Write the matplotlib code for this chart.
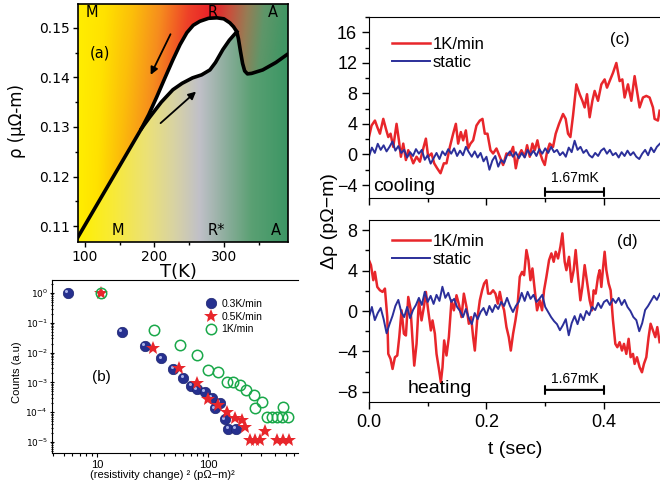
import numpy as np
import matplotlib
matplotlib.use("Agg")
import matplotlib.pyplot as plt
from matplotlib.ticker import MultipleLocator, NullFormatter, LogLocator, FormatStrFormatter
from matplotlib import transforms

plt.rcParams['font.family'] = ['Liberation Sans', 'DejaVu Sans']

# ---------------- panel (a): rho(T) ----------------
line_T = [88, 181.6]
line_rho = [0.1073, 0.1297]
cool_T = [181.6, 192, 203.6, 215, 226.6, 237, 246.8, 256, 265.5, 278, 290, 300, 308.6, 314, 318.7]
cool_rho = [0.1297, 0.1325, 0.1361, 0.1398, 0.1435, 0.1466, 0.1490, 0.1505, 0.1513, 0.1519,
            0.1520, 0.1518, 0.1510, 0.1502, 0.1492]
heat_T = [181.6, 193.5, 210, 226.6, 240, 255, 268, 280, 288, 298.6, 308, 318.7]
heat_rho = [0.1297, 0.1320, 0.1350, 0.1375, 0.1388, 0.1399, 0.1405, 0.1415, 0.1430, 0.1456,
            0.1475, 0.1492]
tail_T = [318.7, 321, 324, 327, 330, 334, 340, 356, 375, 392]
tail_rho = [0.1492, 0.1478, 0.1452, 0.1428, 0.1413, 0.1407, 0.1408, 0.1415, 0.1430, 0.1447]

# ---------------- panel (b): histograms ----------------
b03_x = [5.5, 16.7, 27, 38, 48.8, 60, 71, 79, 94, 108, 116, 128, 142, 152, 179]
b03_y = [1.0, 0.05, 0.017, 0.0064, 0.0028, 0.0014, 0.00076, 0.00059, 0.00049, 0.0003,
         0.000135, 0.00021, 5.8e-5, 2.7e-5, 2.7e-5]
b05_x = [10.8, 32, 55, 79, 101, 124, 147, 175, 201, 215, 239, 265, 294, 326, 420, 470, 540]
b05_y = [1.0, 0.014, 0.003, 0.00098, 0.00027, 0.00017, 0.000104, 6.3e-5, 5.5e-5, 3.3e-5,
         1.15e-5, 1.15e-5, 1.15e-5, 2.4e-5, 1.15e-5, 1.15e-5, 1.15e-5]
b10_x = [10.8, 32.7, 56, 79, 100, 124, 147, 169, 194, 222, 257, 264, 304, 337, 374, 415, 461, 478, 530]
b10_y = [1.0, 0.057, 0.018, 0.0083, 0.0026, 0.0023, 0.00105, 0.00105, 0.00081, 0.00055,
         0.00038, 0.000135, 0.00022, 6.8e-5, 6.8e-5, 6.8e-5, 6.8e-5, 0.000145, 6.8e-5]

# ---------------- panel (c): cooling ----------------
c_red_t = [0.000, 0.0045, 0.0102, 0.0142, 0.0187, 0.0244, 0.0289, 0.0329, 0.0368, 0.0414,
           0.0470, 0.0510, 0.0544, 0.0584, 0.0629, 0.0669, 0.0714, 0.0754, 0.0810, 0.0867,
           0.0924, 0.0969, 0.1008, 0.1065, 0.1110, 0.1161, 0.1218, 0.1275, 0.1320, 0.1377,
           0.1433, 0.1479, 0.1518, 0.1564, 0.1603, 0.1649, 0.1688, 0.1728, 0.1773, 0.1830,
           0.1887, 0.1932, 0.1972, 0.2017, 0.2068, 0.2113, 0.2170, 0.2227, 0.2283, 0.2340,
           0.2397, 0.2453, 0.2499, 0.2538, 0.2595, 0.2652, 0.2691, 0.2737, 0.2782, 0.2822,
           0.2867, 0.2907, 0.2952, 0.2992, 0.3031, 0.3076, 0.3133, 0.3178, 0.3235, 0.3303,
           0.3348, 0.3388, 0.3428, 0.3473, 0.3530, 0.3586, 0.3632, 0.3671, 0.3711, 0.3756,
           0.3802, 0.3841, 0.3898, 0.3955, 0.4011, 0.4051, 0.4096, 0.4153, 0.4210, 0.4266,
           0.4312, 0.4351, 0.4408, 0.4465, 0.4521, 0.4561, 0.4606, 0.4663, 0.4720, 0.4776,
           0.4833, 0.4861, 0.4918, 0.4946]
c_red = [2.28, 3.79, 4.44, 3.58, 2.72, 4.66, 3.36, 2.28, 2.72, 0.99,
         4.01, 1.85, -0.30, 1.42, -0.73, 0.56, -0.30, -1.16, -0.30, -0.95,
         0.78, 2.07, -0.30, 0.13, -1.16, -1.81, -2.46, -1.16, -1.16, 0.99,
         2.72, 4.01, 1.42, 2.93, 1.85, 3.15, 0.78, 1.42, 1.85, 3.79,
         4.44, 4.66, 2.72, 2.72, 0.56, 0.13, 0.78, -0.30, -1.38, 0.13,
         -0.09, 0.99, -1.81, -0.30, 0.56, -0.30, 1.21, -0.30, 1.42, 0.56,
         1.85, 0.34, -0.73, -1.38, 0.34, 1.42, 0.99, 2.72, 4.01, 5.30,
         4.66, 2.72, 2.28, 5.09, 9.18, 7.89, 7.03, 6.16, 7.89, 4.87,
         7.03, 8.32, 7.03, 9.18, 9.83, 8.75, 9.61, 10.69, 11.98, 9.61,
         9.83, 7.46, 9.18, 7.03, 10.26, 8.32, 6.16, 7.46, 7.67, 7.46,
         6.16, 4.66, 4.44, 5.73]
static_t = [0.000, 0.005, 0.010, 0.015, 0.020, 0.025, 0.030, 0.035, 0.040, 0.045,
            0.050, 0.055, 0.060, 0.065, 0.070, 0.075, 0.080, 0.085, 0.090, 0.095,
            0.100, 0.105, 0.110, 0.115, 0.120, 0.125, 0.130, 0.135, 0.140, 0.145,
            0.150, 0.155, 0.160, 0.165, 0.170, 0.175, 0.180, 0.185, 0.190, 0.195,
            0.200, 0.205, 0.210, 0.215, 0.220, 0.225, 0.230, 0.235, 0.240, 0.245,
            0.250, 0.255, 0.260, 0.265, 0.270, 0.275, 0.280, 0.285, 0.290, 0.295,
            0.300, 0.305, 0.310, 0.315, 0.320, 0.325, 0.330, 0.335, 0.340, 0.345,
            0.350, 0.355, 0.360, 0.365, 0.370, 0.375, 0.380, 0.385, 0.390, 0.395,
            0.400, 0.405, 0.410, 0.415, 0.420, 0.425, 0.430, 0.435, 0.440, 0.445,
            0.450, 0.455, 0.460, 0.465, 0.470, 0.475, 0.480, 0.485, 0.490, 0.495]
c_static = [-0.3, 0.9, 0.2, 1.4, 0.6, 1.2, 0.4, 1.0, 1.7, 0.5,
            1.1, 0.2, 0.6, -0.4, 0.3, -0.2, 0.7, 0.1, 0.6, -0.7,
            -0.1, -1.2, -0.5, 0.2, -0.6, 0.4, -0.1, 0.7, 0.1, 0.8,
            -0.2, 0.5, -0.1, 1.0, 0.3, -0.3, 0.4, -0.4, 0.2, -0.9,
            -0.3, -2.0, -0.8, -0.2, -1.6, -0.7, -1.1, -0.1, 0.4, -0.3,
            0.3, -0.5, 0.2, -0.4, 0.6, -0.1, 0.5, -0.2, 0.7, 0.1,
            0.8, 0.2, 1.0, 0.3, 0.6, -0.1, 0.3, -0.3, 0.9, 0.3,
            1.8, 0.6, 1.0, 0.2, 0.6, -0.1, -0.4, 0.2, -0.2, 0.5,
            0.8, 0.1, 0.6, -0.1, 0.2, -0.4, 0.3, -0.2, 0.5, -0.1,
            0.3, -0.3, -0.6, 0.1, 0.6, -0.1, 0.9, 0.3, 1.0, 1.4]

# ---------------- panel (d): heating ----------------
d_red_t = [0.0000, 0.0034, 0.0074, 0.0102, 0.0142, 0.0187, 0.0232, 0.0272, 0.0312, 0.0329,
           0.0368, 0.0402, 0.0442, 0.0482, 0.0516, 0.0555, 0.0595, 0.0629, 0.0669, 0.0708,
           0.0742, 0.0771, 0.0810, 0.0850, 0.0895, 0.0935, 0.0969, 0.1008, 0.1054, 0.1082,
           0.1122, 0.1150, 0.1195, 0.1224, 0.1252, 0.1280, 0.1320, 0.1360, 0.1405, 0.1445,
           0.1490, 0.1535, 0.1575, 0.1615, 0.1660, 0.1700, 0.1739, 0.1773, 0.1802, 0.1841,
           0.1887, 0.1926, 0.1960, 0.2000, 0.2028, 0.2068, 0.2113, 0.2153, 0.2193, 0.2227,
           0.2266, 0.2300, 0.2340, 0.2380, 0.2414, 0.2453, 0.2493, 0.2527, 0.2567, 0.2606,
           0.2640, 0.2680, 0.2714, 0.2748, 0.2782, 0.2822, 0.2861, 0.2907, 0.2946, 0.2980,
           0.3020, 0.3065, 0.3105, 0.3144, 0.3178, 0.3218, 0.3258, 0.3292, 0.3331, 0.3360,
           0.3405, 0.3445, 0.3484, 0.3518, 0.3558, 0.3598, 0.3632, 0.3671, 0.3711, 0.3756,
           0.3796, 0.3824, 0.3858, 0.3898, 0.3926, 0.3955, 0.3983, 0.4011, 0.4040, 0.4079,
           0.4113, 0.4153, 0.4193, 0.4227, 0.4266, 0.4306, 0.4340, 0.4380, 0.4419, 0.4453,
           0.4493, 0.4521, 0.4561, 0.4606, 0.4646, 0.4680, 0.4720, 0.4759, 0.4793, 0.4833,
           0.4873, 0.4907, 0.4946]
d_red = [5.03, 4.54, 3.05, 3.87, 2.38, 2.05, 1.89, 2.22, -0.60, -4.24,
         -4.74, -5.73, -4.57, -4.40, -2.58, 0.07, -2.25, -2.42, 1.39, 0.23,
         -2.91, -5.40, -3.25, 1.06, -0.93, 0.40, 1.89, 0.07, -1.92, -0.93,
         -2.25, -4.24, -5.89, -7.05, -5.56, -2.91, -4.40, -2.58, 1.06, 0.07,
         1.56, 0.56, -0.60, 1.72, 0.40, -1.26, -0.60, -2.58, -3.91, -0.93,
         1.06, 2.05, 2.72, 3.05, 1.72, 1.72, 2.05, 1.72, 0.73, 1.89,
         0.73, 0.07, -1.59, -2.58, -3.91, -2.25, -0.93, 0.40, 3.38, 3.87,
         3.54, 6.03, 5.03, 3.05, 4.21, 2.05, 0.07, 1.06, 0.07, 2.05,
         3.38, 5.03, 5.70, 4.87, 5.86, 5.20, 6.36, 7.68, 4.87, 4.04,
         5.36, 2.88, 4.04, 6.03, 3.38, 1.06, 2.38, 4.54, 2.88, 1.06,
         0.07, 2.05, 1.72, 3.38, 4.04, 2.38, 4.21, 5.86, 4.04, 2.72,
         2.05, -0.93, -3.25, -3.58, -3.08, -3.91, -3.25, -4.24, -2.75, -4.57,
         -4.24, -5.23, -4.57, -5.56, -6.06, -5.23, -4.57, -2.58, -1.26, -1.92,
         -2.58, -1.59, -3.08]
d_static = [-0.6, 0.4, -0.9, -0.2, 0.3, -0.8, -2.2, -1.3, -0.5, 0.5,
            1.1, -0.1, -0.6, 0.4, -0.7, 0.1, 0.6, 1.3, 0.6, 1.9,
            0.9, 1.5, 0.7, 1.6, 1.0, 2.4, 1.3, 1.8, 0.9, 1.2,
            0.4, 0.0, -0.6, 0.2, -0.7, -1.3, -0.2, -0.8, -0.1, 0.3,
            -0.4, 0.5, -0.1, 0.6, 0.2, 0.9, 0.5, 1.3, 0.5, -0.1,
            0.5, 0.9, 1.8, 1.0, 1.9, 1.2, 1.6, 0.9, 1.2, 1.6,
            0.4, -0.1, -0.6, -1.0, -1.3, -1.9, -1.4, -0.8, -2.4, -1.2,
            -0.5, -1.3, -0.3, -0.9, 0.0, -0.4, 0.4, 0.1, 0.8, 0.3,
            0.9, 1.1, 0.6, 1.2, 0.8, 1.3, 0.6, 1.1, 0.4, 0.0,
            -0.6, -0.9, -2.0, -1.2, 0.1, 0.5, 1.0, 1.5, 1.1, 1.7]

RED = '#e8262b'
BLUE = '#2b2f9a'

fig = plt.figure(figsize=(6.6, 4.92), dpi=100)

# ============ (a) ============
ax_a = fig.add_axes([0.118, 0.508, 0.318, 0.484])
Tmin, Tmax, Rmin, Rmax = 90, 392, 0.1068, 0.1548

# background colour stops (top edge / bottom edge of the phase map)
top_T = [90, 130, 170, 210, 250, 285, 310, 335, 360, 392]
top_C = [(255, 238, 0), (255, 225, 0), (252, 190, 10), (246, 140, 30), (238, 65, 40),
         (232, 30, 40), (200, 80, 60), (150, 125, 85), (95, 150, 105), (65, 150, 100)]
bot_T = [90, 140, 190, 230, 265, 300, 340, 392]
bot_C = [(255, 240, 0), (248, 234, 55), (235, 225, 120), (215, 210, 165), (192, 192, 200),
         (145, 175, 160), (90, 160, 115), (60, 150, 100)]


def ramp(x, stops, cols):
    return np.stack([np.interp(x, stops, [c[i] for c in cols]) for i in range(3)], -1) / 255.0


TT, RR = np.meshgrid(np.linspace(Tmin, Tmax, 400), np.linspace(Rmin, Rmax, 300))
U = TT + 700 * (0.155 - RR) * np.clip((TT - 90) / 60.0, 0, 1)
edge_T = line_T + cool_T[1:] + tail_T[1:]
edge_rho = line_rho + cool_rho[1:] + tail_rho[1:]
above = RR > np.interp(TT, edge_T, edge_rho)
img = np.where(above[..., None], ramp(U, top_T, top_C), ramp(TT, bot_T, bot_C))
ax_a.imshow(img, extent=[Tmin, Tmax, Rmin, Rmax], origin='lower', aspect='auto',
            interpolation='bilinear', zorder=0)

ax_a.fill(cool_T + heat_T[::-1], cool_rho + heat_rho[::-1], color='white', zorder=1)
ax_a.plot(edge_T, edge_rho, color='k', lw=2.6, zorder=2, solid_capstyle='round')
ax_a.plot(heat_T, heat_rho, color='k', lw=2.6, zorder=2)
ax_a.annotate('', xy=(193, 0.1400), xytext=(225, 0.1492),
              arrowprops=dict(arrowstyle='-|>', color='k', lw=1.3, mutation_scale=11))
ax_a.annotate('', xy=(263, 0.1375), xytext=(206, 0.1304),
              arrowprops=dict(arrowstyle='-|>', color='k', lw=1.3, mutation_scale=11))

ax_a.set_xlim(Tmin, Tmax)
ax_a.set_ylim(Rmin, Rmax)
ax_a.set_xticks([100, 200, 300])
ax_a.set_yticks([0.11, 0.12, 0.13, 0.14, 0.15])
ax_a.xaxis.set_minor_locator(MultipleLocator(50))
ax_a.yaxis.set_minor_locator(MultipleLocator(0.005))
ax_a.tick_params(which='both', direction='out', labelsize=10, length=3.5, width=1, pad=2)
ax_a.tick_params(which='minor', length=2.5)
for lab in ax_a.get_xticklabels() + ax_a.get_yticklabels():
    lab.set_family('DejaVu Sans')
for s in ax_a.spines.values():
    s.set_linewidth(1.2)

fa = dict(fontsize=10.5, family='DejaVu Sans', ha='center', va='center')
ax_a.text(110, 0.1530, 'M', **fa)
ax_a.text(284, 0.1530, 'R', **fa)
ax_a.text(370, 0.1530, 'A', **fa)
ax_a.text(147, 0.1092, 'M', **fa)
ax_a.text(290, 0.1092, 'R*', **fa)
ax_a.text(375, 0.1092, 'A', **fa)
ax_a.text(122, 0.1450, '(a)', **fa)
fig.text(0.2707, 0.447, 'T(K)', fontsize=13, family='DejaVu Sans', ha='center', va='center')
fig.text(0.026, 0.754, 'ρ (μΩ-m)', fontsize=12, family='DejaVu Sans', rotation=90,
         ha='center', va='center')

# ============ (b) ============
ax_b = fig.add_axes([0.0788, 0.0793, 0.3727, 0.3516])
ax_b.set_xscale('log')
ax_b.set_yscale('log')
hl = transforms.offset_copy(ax_b.transData, fig=fig, x=-1.2, y=1.2, units='points')
ax_b.plot(b03_x, b03_y, 'o', color='#26308f', ms=7.5, mec='#1c2470', mew=0.5, label='0.3K/min')
ax_b.plot(b03_x, b03_y, 'o', color='#aab2e8', ms=2.2, mew=0, transform=hl)
ax_b.plot(b05_x, b05_y, '*', color=RED, ms=10, mew=0, label='0.5K/min')
ax_b.plot(b10_x, b10_y, 'o', mfc='none', mec='#1aa84a', ms=7.5, mew=1.1, label='1K/min')
ax_b.set_xlim(3.94, 646)
ax_b.set_ylim(4.27e-6, 2.75)
ax_b.set_xticks([10, 100])
ax_b.set_xticklabels(['10', '100'])
ax_b.xaxis.set_minor_formatter(NullFormatter())
ax_b.set_yticks([1, 1e-1, 1e-2, 1e-3, 1e-4, 1e-5])
ax_b.set_yticklabels(['$10^{0}$', '$10^{-1}$', '$10^{-2}$', '$10^{-3}$', '$10^{-4}$', '$10^{-5}$'])
ax_b.yaxis.set_minor_locator(LogLocator(base=10, subs=np.arange(2, 10), numticks=20))
ax_b.yaxis.set_minor_formatter(NullFormatter())
ax_b.tick_params(axis='x', which='both', direction='out', labelsize=8, length=3, width=0.8, pad=2)
ax_b.tick_params(axis='x', which='minor', length=2)
ax_b.tick_params(axis='y', which='both', direction='inout', labelsize=6.5, length=3, width=0.8, pad=1.5)
ax_b.tick_params(axis='y', which='minor', length=2)
ax_b.spines['right'].set_visible(False)
ax_b.legend(loc='upper left', bbox_to_anchor=(0.60, 0.92), frameon=False, fontsize=7.5,
            handletextpad=0.4, labelspacing=0.25, borderpad=0, handlelength=1.2)
ax_b.text(0.20, 0.44, '(b)', transform=ax_b.transAxes, fontsize=11, ha='center', va='center')
fig.text(0.246, 0.0346, '(resistivity change) ² (pΩ−m)²', fontsize=8, ha='center', va='center')
fig.text(0.026, 0.2445, 'Counts (a.u)', fontsize=8, rotation=90, ha='center', va='center')

# ============ (c) and (d) ============
ax_c = fig.add_axes([0.559, 0.5976, 0.441, 0.3678])
ax_d = fig.add_axes([0.559, 0.1829, 0.441, 0.3699])

ax_c.plot(c_red_t, c_red, color=RED, lw=1.8, label='1K/min')
ax_c.plot(static_t, c_static, color=BLUE, lw=1.4, label='static')
ax_c.set_ylim(-5.7, 18)
ax_c.set_yticks([-4, 0, 4, 8, 12, 16])
ax_c.text(0.007, -4.2, 'cooling', fontsize=14, ha='left', va='center')
ax_c.text(0.427, 15.0, '(c)', fontsize=12, ha='center', va='center')
ax_c.annotate('', xy=(0.3, -4.9), xytext=(0.4, -4.9),
              arrowprops=dict(arrowstyle='|-|', lw=1.5, mutation_scale=3, shrinkA=0, shrinkB=0))
ax_c.text(0.35, -3.1, '1.67mK', fontsize=10, ha='center', va='center')

ax_d.plot(d_red_t, d_red, color=RED, lw=1.8, label='1K/min')
ax_d.plot(static_t, d_static, color=BLUE, lw=1.4, label='static')
ax_d.set_ylim(-9.0, 9.0)
ax_d.set_yticks([-8, -4, 0, 4, 8])
ax_d.text(0.065, -7.7, 'heating', fontsize=14, ha='left', va='center')
ax_d.text(0.44, 6.9, '(d)', fontsize=12, ha='center', va='center')
ax_d.annotate('', xy=(0.3, -7.8), xytext=(0.4, -7.8),
              arrowprops=dict(arrowstyle='|-|', lw=1.5, mutation_scale=3, shrinkA=0, shrinkB=0))
ax_d.text(0.35, -6.7, '1.67mK', fontsize=10, ha='center', va='center')

for ax, top in ((ax_c, 0.937), (ax_d, 0.97)):
    ax.set_xlim(0, 0.4953)
    ax.xaxis.set_major_locator(MultipleLocator(0.2))
    ax.xaxis.set_minor_locator(MultipleLocator(0.1))
    ax.yaxis.set_minor_locator(MultipleLocator(2))
    ax.tick_params(which='both', direction='out', labelsize=13, length=5, width=1)
    ax.tick_params(which='minor', length=3)
    ax.spines['right'].set_visible(False)
    ax.legend(loc='upper left', bbox_to_anchor=(0.05, top), frameon=False, fontsize=12,
              handlelength=2.3, handletextpad=0.15, labelspacing=0.2, borderpad=0)
ax_c.tick_params(axis='x', labelbottom=False)
ax_d.xaxis.set_major_formatter(FormatStrFormatter('%.1f'))

fig.text(0.50, 0.551, 'Δρ (pΩ−m)', fontsize=14, rotation=90, ha='center', va='center')
fig.text(0.780, 0.0854, 't (sec)', fontsize=14, ha='center', va='center')

fig.savefig('out.png', dpi=100)
